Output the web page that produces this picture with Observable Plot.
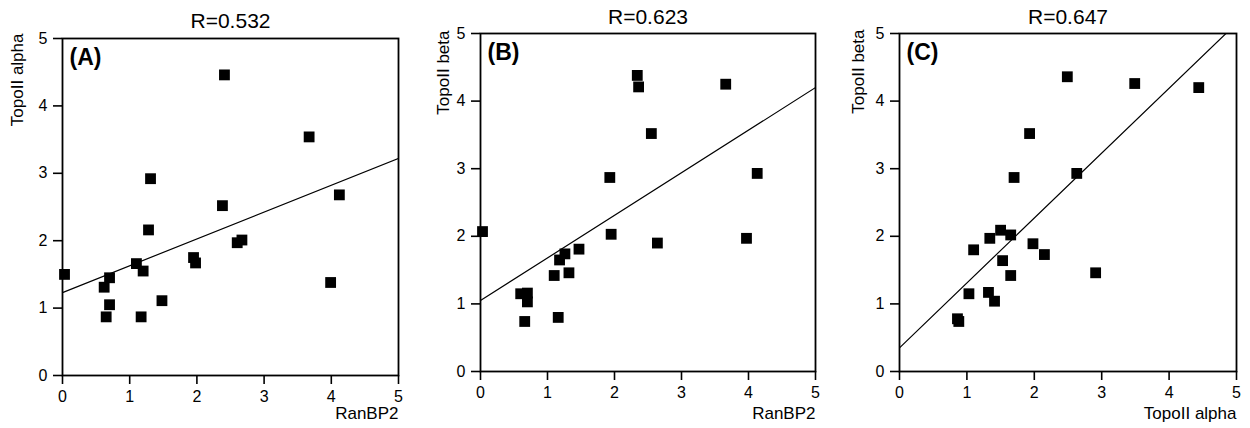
<!DOCTYPE html>
<html><head><meta charset="utf-8">
<script src="https://cdn.jsdelivr.net/npm/d3@7"></script>
<script src="https://cdn.jsdelivr.net/npm/@observablehq/plot@0.6"></script>
<style>
body{margin:0;background:#fff}
#row{display:flex;width:1250px;height:428px;overflow:hidden}
#row svg{flex:none;display:block}
</style>
</head><body><div id="row"></div>
<script>
// Panel A: RanBP2 (x) vs TopoII alpha (y)
const ranbp2A = [0.03,0.62,0.70,0.70,0.65,1.10,1.20,1.17,1.31,1.28,1.48,1.95,1.98,2.41,2.38,2.60,2.67,3.67,4.12,3.99];
const alphaA  = [1.50,1.31,1.45,1.05,0.87,1.66,1.55,0.87,2.92,2.16,1.11,1.75,1.67,4.46,2.52,1.97,2.01,3.54,2.68,1.38];
// Panel B: RanBP2 (x) vs TopoII beta (y)
const ranbp2B = [0.03,0.60,0.70,0.70,0.66,1.10,1.18,1.26,1.32,1.16,1.47,1.93,1.95,2.34,2.36,2.55,2.64,3.66,4.13,3.97];
const betaB   = [2.07,1.15,1.16,1.03,0.74,1.42,1.65,1.74,1.46,0.80,1.81,2.87,2.03,4.38,4.21,3.52,1.90,4.25,2.93,1.97];
// Panel C: TopoII alpha (x) vs TopoII beta (y)
const alphaC  = [0.86,0.88,1.03,1.10,1.32,1.41,1.34,1.50,1.65,1.53,1.65,1.70,1.93,1.98,2.15,2.49,2.63,2.91,3.49,4.44];
const betaC   = [0.78,0.74,1.15,1.80,1.17,1.04,1.97,2.09,2.02,1.64,1.42,2.87,3.52,1.89,1.73,4.36,2.93,1.46,4.26,4.20];

const titles      = ["R=0.532","R=0.623","R=0.647"];
const panelLabels = ["(A)","(B)","(C)"];
const xLabels     = ["RanBP2","RanBP2","TopoII alpha"];
const yLabels     = ["TopoII alpha","TopoII beta","TopoII beta"];
const fitIntercepts = [1.23, 1.05, 0.35];
const fitSlopes     = [0.398, 0.63, 0.96];
const tickValues  = [0,1,2,3,4,5];

const xs = [ranbp2A, ranbp2B, alphaC];
const ys = [alphaA, betaB, betaC];

const layout = [
  {width:417, ml:62, mr:19, mt:38, mb:53, ylx:-45, yly:-5, tdy:-17, xly:38},
  {width:417, ml:63, mr:19, mt:33, mb:57, ylx:-37, yly:-3, tdy:-16, xly:42},
  {width:416, ml:65, mr:14, mt:33, mb:57, ylx:-41, yly:-4, tdy:-16, xly:42}
];

const font = "'Liberation Sans', Arial, sans-serif";

layout.forEach((L, i) => {
  const pts = xs[i].map((x, k) => ({x, y: ys[i][k]}));
  const fit = [0, 5].map(x => ({x, y: fitIntercepts[i] + fitSlopes[i] * x}));
  const chart = Plot.plot({
    width: L.width, height: 428,
    marginLeft: L.ml, marginRight: L.mr, marginTop: L.mt, marginBottom: L.mb,
    style: {fontFamily: font, fontSize: "16px", color: "#000", background: "#fff"},
    x: {domain: [0, 5]},
    y: {domain: [0, 5]},
    marks: [
      Plot.axisX({ticks: tickValues, tickFormat: d => String(d), tickSize: 9, tickPadding: 6, label: null, strokeWidth: 1.6, fontSize: 16}),
      Plot.axisY({ticks: tickValues, tickFormat: d => String(d), tickSize: 9, tickPadding: 6, label: null, strokeWidth: 1.6, fontSize: 16}),
      Plot.frame({stroke: "#000", strokeWidth: 1.8}),
      Plot.line(fit, {x: "x", y: "y", stroke: "#000", strokeWidth: 1.2, clip: true}),
      Plot.dot(pts, {x: "x", y: "y", symbol: "square", r: 6.1, fill: "#000", stroke: "none"}),
      Plot.text([titles[i]], {frameAnchor: "top", dy: L.tdy, lineAnchor: "middle", fontSize: 21, fill: "#000"}),
      Plot.text([panelLabels[i]], {frameAnchor: "top-left", dx: 7, dy: 19, lineAnchor: "middle", textAnchor: "start", fontSize: 23, fontWeight: "bold", fill: "#000"}),
      Plot.text([xLabels[i]], {frameAnchor: "bottom-right", dy: L.xly, lineAnchor: "middle", textAnchor: "end", fontSize: 17, fill: "#000"}),
      Plot.text([yLabels[i]], {frameAnchor: "top-left", dx: L.ylx, dy: L.yly, lineAnchor: "middle", rotate: -90, textAnchor: "end", fontSize: 17, fill: "#000"})
    ]
  });
  document.getElementById("row").appendChild(chart);
});
</script>
</body></html>
